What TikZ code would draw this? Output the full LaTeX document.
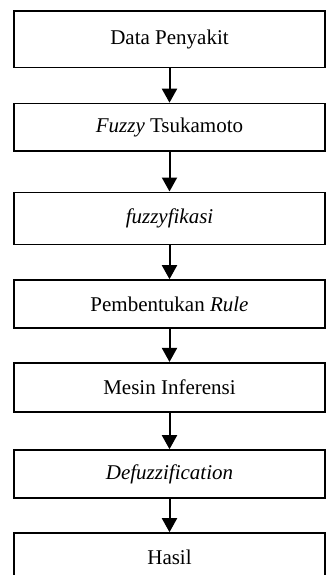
\documentclass[tikz,border=0pt]{standalone}
\usepackage{fontspec}
\setmainfont{Liberation Serif}
\usetikzlibrary{arrows.meta}
\begin{document}
\begin{tikzpicture}[x=1pt,y=-1pt,
  stepbox/.style={draw=black, line width=1.6pt, minimum width=311pt, inner sep=0pt,
    font=\fontsize{21}{25}\selectfont, fill=white},
  flow/.style={line width=2pt, -{Triangle[width=15pt,length=14pt]}}]
\useasboundingbox (0,0) rectangle (326,575);
\node[stepbox, minimum height=56.5pt] (a) at (169.5,39.25) {Data Penyakit};
\node[stepbox, minimum height=47.5pt] (b) at (169.5,127.25) {\textit{Fuzzy} Tsukamoto};
\node[stepbox, minimum height=52pt] (c) at (169.5,218.3) {\textit{fuzzyfikasi}};
\node[stepbox, minimum height=48pt] (d) at (169.5,304) {Pembentukan \textit{Rule}};
\node[stepbox, minimum height=49.5pt] (e) at (169.5,387.5) {Mesin Inferensi};
\node[stepbox, minimum height=48pt] (f) at (169.5,474) {\textit{Defuzzification}};
\node[stepbox, minimum height=48pt] (g) at (169.5,557) {Hasil};
\draw[flow] (a) -- (b);
\draw[flow] (b) -- (c);
\draw[flow] (c) -- (d);
\draw[flow] (d) -- (e);
\draw[flow] (e) -- (f);
\draw[flow] (f) -- (g);
\end{tikzpicture}
\end{document}
